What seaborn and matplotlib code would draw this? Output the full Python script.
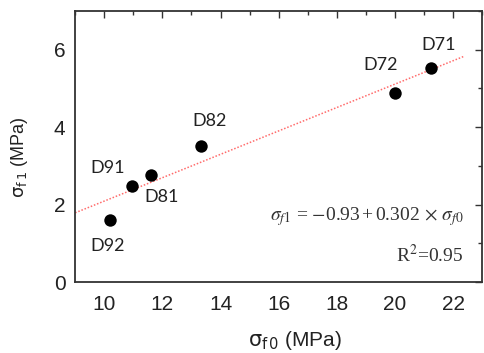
import matplotlib
matplotlib.use("Agg")
import matplotlib.pyplot as plt
import seaborn as sns
import pandas as pd
from matplotlib.ticker import MultipleLocator

labels = ["D92", "D91", "D81", "D82", "D72", "D71"]
sigma_f0 = [10.2, 10.97, 11.6, 13.33, 20.0, 21.25]
sigma_f1 = [1.6, 2.48, 2.76, 3.5, 4.88, 5.52]
fit_intercept = -0.93
fit_slope = 0.302
fit_x = [9.0, 22.4]

sns.set_style("white")
plt.rcParams['font.family'] = ['Liberation Sans', 'DejaVu Sans']

df = pd.DataFrame({"x": sigma_f0, "y": sigma_f1, "label": labels})
fit_df = pd.DataFrame({"x": fit_x, "y": [fit_intercept + fit_slope * v for v in fit_x]})

fig = plt.figure(figsize=(4.85, 3.53), dpi=100)
ax = fig.add_axes([0.155, 0.201, 0.839, 0.768])

sns.lineplot(data=fit_df, x="x", y="y", ax=ax, color="#ff6b6b", linestyle=(0, (1, 1.2)), linewidth=1.1)
sns.scatterplot(data=df, x="x", y="y", ax=ax, color="black", s=80, marker="o", edgecolor="black", linewidth=0, zorder=3)

offsets = {"D92": (-2, -19), "D91": (-18, 13), "D81": (8, -16),
           "D82": (6, 18), "D72": (-10, 20), "D71": (5, 17)}
for lab, xv, yv in zip(labels, sigma_f0, sigma_f1):
    dx, dy = offsets[lab]
    ax.annotate(lab, (xv, yv), xytext=(dx, dy), textcoords="offset points", ha="center", va="center",
                fontsize=13, family=["Lato", "DejaVu Sans"], color="#222222")

ax.text(0.955, 0.24, r"$\sigma_{f1}$ = $-$0.93$\,$+$\,$0.302$\,\times\,\sigma_{f0}$", transform=ax.transAxes,
        ha="right", va="center", fontsize=14, family=["Liberation Serif"], color="#333333",
        math_fontfamily="stix")
ax.text(0.955, 0.10, "R$^{2}$=0.95", transform=ax.transAxes, ha="right", va="center",
        fontsize=14, family=["Liberation Serif"], color="#333333", math_fontfamily="stix")

ax.set_xlim(9, 23)
ax.set_ylim(0, 7)
ax.xaxis.set_major_locator(MultipleLocator(2))
ax.xaxis.set_minor_locator(MultipleLocator(1))
ax.yaxis.set_major_locator(MultipleLocator(2))
ax.yaxis.set_minor_locator(MultipleLocator(1))
ax.tick_params(which="both", direction="in", top=True, right=True, color="#333333")
ax.tick_params(which="major", length=5, width=1, labelsize=15, labelcolor="#222222")
ax.tick_params(axis="x", which="major", pad=9)
ax.tick_params(axis="y", which="major", pad=7)
ax.tick_params(which="minor", length=3, width=1)
for s in ax.spines.values():
    s.set_linewidth(1.3)
    s.set_color("#333333")

ax.set_xlabel(r"$\mathrm{\sigma_{f\,0}}$ (MPa)", fontsize=15, color="#222222")
ax.set_ylabel(r"$\mathrm{\sigma_{f\,1}}$ (MPa)", fontsize=13, color="#222222")
ax.xaxis.set_label_coords(0.54, -0.175)
ax.yaxis.set_label_coords(-0.11, 0.46)

fig.savefig("out.png", dpi=100)
